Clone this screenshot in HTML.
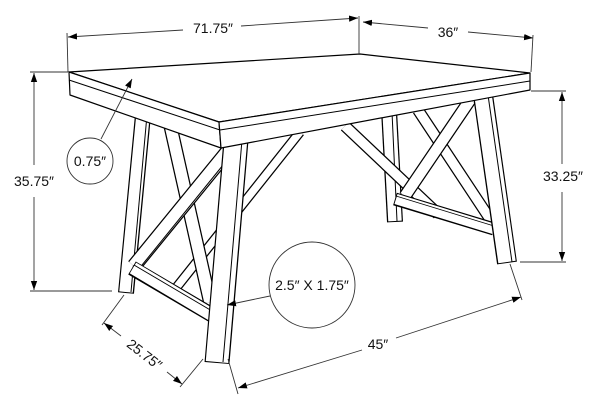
<!DOCTYPE html>
<html><head><meta charset="utf-8"><style>
html,body{margin:0;padding:0;background:#fff;}
svg{display:block}
text{font-family:"Liberation Sans",sans-serif;font-size:14px;fill:#111}
</style></head><body>
<svg width="600" height="411" viewBox="0 0 600 411" xmlns="http://www.w3.org/2000/svg">
<defs>
<marker id="a" viewBox="0 0 10 10" refX="10" refY="5" markerWidth="9" markerHeight="9" markerUnits="userSpaceOnUse" orient="auto-start-reverse"><path d="M0,1.5 L10,5 L0,8.5 z" fill="#000"/></marker>
</defs>
<g stroke-linecap="butt">
<line x1="389" y1="110" x2="395" y2="222" stroke="#000" stroke-width="16"/>
<line x1="389" y1="110" x2="395" y2="221" stroke="#fff" stroke-width="13.5"/>
<line x1="392" y1="112" x2="397" y2="221" stroke="#000" stroke-width="1"/>
<line x1="300" y1="132" x2="176" y2="288" stroke="#000" stroke-width="10"/>
<line x1="300" y1="132" x2="176" y2="288" stroke="#fff" stroke-width="7.5"/>
<line x1="345" y1="126" x2="438" y2="214" stroke="#000" stroke-width="12"/>
<line x1="345" y1="126" x2="438" y2="214" stroke="#fff" stroke-width="9.5"/>
<line x1="418" y1="110" x2="492" y2="222" stroke="#000" stroke-width="12"/>
<line x1="418" y1="110" x2="492" y2="222" stroke="#fff" stroke-width="9.5"/>
<line x1="470" y1="100" x2="405" y2="196" stroke="#000" stroke-width="13"/>
<line x1="470" y1="100" x2="405" y2="196" stroke="#fff" stroke-width="10.5"/>
<line x1="395" y1="199" x2="494" y2="229" stroke="#000" stroke-width="13"/>
<line x1="396" y1="199" x2="494" y2="229" stroke="#fff" stroke-width="10.5"/>
<line x1="396" y1="196" x2="494" y2="226" stroke="#000" stroke-width="0.8"/>
<line x1="483" y1="95" x2="507" y2="263" stroke="#000" stroke-width="20"/>
<line x1="483" y1="95" x2="507" y2="262" stroke="#fff" stroke-width="17.5"/>
<line x1="488" y1="95" x2="512" y2="262" stroke="#000" stroke-width="1"/>
<line x1="143" y1="115" x2="126" y2="293" stroke="#000" stroke-width="16"/>
<line x1="143" y1="115" x2="126" y2="292" stroke="#fff" stroke-width="13.5"/>
<line x1="147" y1="115" x2="131" y2="292" stroke="#000" stroke-width="1"/>
<line x1="168" y1="115" x2="210" y2="302" stroke="#000" stroke-width="14"/>
<line x1="168" y1="115" x2="210" y2="302" stroke="#fff" stroke-width="11.5"/>
<line x1="232" y1="146" x2="134" y2="266" stroke="#000" stroke-width="15"/>
<line x1="232" y1="146" x2="134" y2="266" stroke="#fff" stroke-width="12.5"/>
<line x1="236" y1="149" x2="138" y2="270" stroke="#000" stroke-width="1"/>
<line x1="132" y1="268" x2="212" y2="315" stroke="#000" stroke-width="15"/>
<line x1="133" y1="268" x2="212" y2="315" stroke="#fff" stroke-width="12.5"/>
<line x1="134" y1="265" x2="212" y2="311" stroke="#000" stroke-width="1"/>
<line x1="236" y1="140" x2="217" y2="363" stroke="#000" stroke-width="25"/>
<line x1="236" y1="140" x2="217" y2="362" stroke="#fff" stroke-width="22.5"/>
<line x1="242" y1="140" x2="223" y2="362" stroke="#000" stroke-width="1"/>
</g>
<g fill="#fff" stroke="#000" stroke-width="1.2" stroke-linejoin="round">
<polygon points="69,72 360,54 530,73 219,122"/>
<polygon points="69,72 219,122 221,148 70,95"/>
<polygon points="219,122 530,73 530,90 221,148"/>
<polyline points="69,80 220,130 530,81" fill="none" stroke-width="1"/>
</g>
<g stroke="#333" stroke-width="0.9" fill="none">
<line x1="67" y1="33" x2="68" y2="72"/>
<line x1="359" y1="16" x2="359" y2="54"/>
<line x1="68" y1="37" x2="183" y2="30" marker-start="url(#a)"/>
<line x1="241" y1="26" x2="358" y2="18" marker-end="url(#a)"/>
<line x1="363" y1="22" x2="428" y2="28" marker-start="url(#a)"/>
<line x1="468" y1="32" x2="533" y2="38" marker-end="url(#a)"/>
<line x1="533" y1="35" x2="531" y2="72"/>
<line x1="30" y1="72" x2="68" y2="72"/>
<line x1="30" y1="291" x2="112" y2="291"/>
<line x1="34" y1="73" x2="34" y2="165" marker-start="url(#a)"/>
<line x1="34" y1="197" x2="34" y2="290" marker-end="url(#a)"/>
<line x1="531" y1="91" x2="566" y2="91"/>
<line x1="520" y1="262" x2="566" y2="262"/>
<line x1="562" y1="92" x2="562" y2="164" marker-start="url(#a)"/>
<line x1="562" y1="192" x2="562" y2="261" marker-end="url(#a)"/>
<line x1="124" y1="295" x2="102" y2="325"/>
<line x1="203" y1="359" x2="180" y2="387"/>
<line x1="104" y1="323" x2="121" y2="336" marker-start="url(#a)"/>
<line x1="167" y1="372" x2="182" y2="384" marker-end="url(#a)"/>
<line x1="228" y1="359" x2="238" y2="394"/>
<line x1="510" y1="264" x2="522" y2="300"/>
<line x1="238" y1="388" x2="362" y2="350" marker-start="url(#a)"/>
<line x1="396" y1="338" x2="521" y2="297" marker-end="url(#a)"/>
<circle cx="90" cy="161" r="23"/>
<line x1="101" y1="139" x2="132" y2="79" marker-end="url(#a)"/>
<circle cx="312" cy="285" r="43"/>
<line x1="270" y1="296" x2="227" y2="305" marker-end="url(#a)"/>
</g>
<text x="213" y="33" text-anchor="middle">71.75″</text>
<text x="448" y="37" text-anchor="middle">36″</text>
<text x="34" y="186" text-anchor="middle">35.75″</text>
<text x="563" y="181" text-anchor="middle">33.25″</text>
<text x="90" y="166" text-anchor="middle">0.75″</text>
<text x="312" y="290" text-anchor="middle">2.5″ X 1.75″</text>
<text x="378" y="349" text-anchor="middle">45″</text>
<text x="144" y="359" text-anchor="middle" transform="rotate(38 144 355)">25.75″</text>
</svg>
</body></html>
